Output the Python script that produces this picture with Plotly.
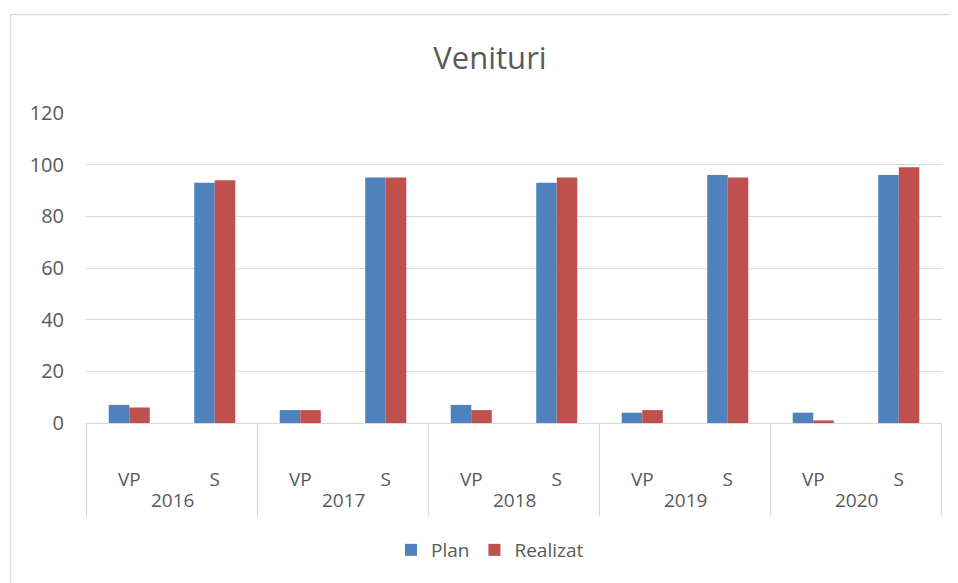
import plotly.graph_objects as go

years = ["2016", "2016", "2017", "2017", "2018", "2018", "2019", "2019", "2020", "2020"]
types = ["VP", "S", "VP", "S", "VP", "S", "VP", "S", "VP", "S"]
plan = [7, 93, 5, 95, 7, 93, 4, 96, 4, 96]
realizat = [6, 94, 5, 95, 5, 95, 5, 95, 1, 99]
y_ticks = [0, 20, 40, 60, 80, 100, 120]
year_groups = ["2016", "2017", "2018", "2019", "2020"]

cats = [f"{y} {t}" for y, t in zip(years, types)]

# the page body has an 8px margin; work in reference pixel coords and shift
OFF = 8
W, H = 950, 575
L, R, T, B = 86 - OFF, 16, 113 - OFF, 160
pw = W - L - R
ph = H - T - B

def px(x):
    return (x - OFF - L) / pw

def py(y):
    return (H - B - (y - OFF)) / ph

GRAY = "#595959"
LINE = "#D9D9D9"
FONT = "Open Sans, Lato, sans-serif"

fig = go.Figure()
fig.add_trace(go.Bar(x=cats, y=plan, name="Plan", marker=dict(color="#4F81BD", line=dict(width=0))))
fig.add_trace(go.Bar(x=cats, y=realizat, name="Realizat", marker=dict(color="#C0504D", line=dict(width=0))))

shapes = [dict(type="rect", xref="paper", yref="paper", x0=px(10.5), x1=px(1000), y0=py(620), y1=py(14.5),
               line=dict(color=LINE, width=1.5), fillcolor="rgba(0,0,0,0)", layer="below")]
n = len(year_groups)
for i in range(n + 1):
    xv = -0.5 + 2 * i
    shapes.append(dict(type="line", xref="x", yref="paper", x0=xv, x1=xv, y0=0, y1=py(516),
                       line=dict(color=LINE, width=1)))

annotations = []
for i, yg in enumerate(year_groups):
    annotations.append(dict(text=yg, xref="x", yref="paper", x=0.5 + 2 * i, y=py(500),
                            showarrow=False, xanchor="center", yanchor="middle",
                            font=dict(family=FONT, size=19, color=GRAY)))

fig.update_layout(
    width=W, height=H,
    margin=dict(l=L, r=R, t=T, b=B),
    paper_bgcolor="white", plot_bgcolor="white",
    barmode="group", bargap=0.52, bargroupgap=0,
    font=dict(family=FONT, color=GRAY, size=19),
    title=dict(text="Venituri", x=(490 - OFF) / W, xanchor="center", y=1 - (58 - OFF) / H, yanchor="middle",
               font=dict(family=FONT, size=31, color=GRAY)),
    showlegend=True,
    legend=dict(orientation="h", x=px(490), xanchor="center", y=py(550), yanchor="middle",
                font=dict(family=FONT, size=19, color=GRAY), itemwidth=30),
    xaxis=dict(type="category", showline=True, linecolor=LINE, linewidth=1,
               tickvals=cats, ticktext=types, ticks="", showgrid=False,
               tickfont=dict(family=FONT, size=19, color=GRAY), ticklabelstandoff=39),
    yaxis=dict(range=[0, 120], tickvals=y_ticks, showgrid=True, gridcolor=LINE,
               gridwidth=1, zeroline=False, showline=False, ticks="",
               tickfont=dict(family=FONT, size=20, color=GRAY), ticklabelstandoff=21),
    shapes=shapes,
    annotations=annotations,
)

fig.write_html("out.html")
